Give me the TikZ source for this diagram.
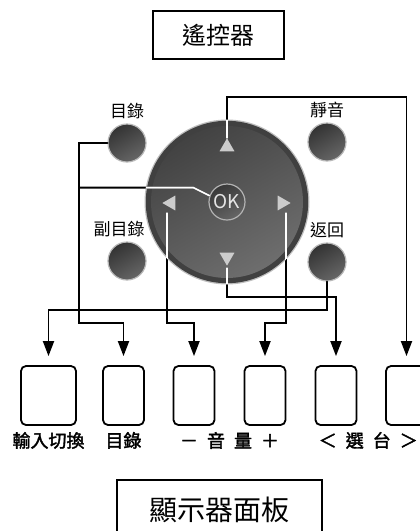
\documentclass[tikz,border=0pt]{standalone}
\usepackage{fontspec}
\newfontfamily\cjk{Noto Sans CJK TC}
\newfontfamily\cjkbold[FakeBold=2]{Noto Sans CJK TC}
\usetikzlibrary{arrows.meta,positioning,calc,shapes.geometric}

\tikzset{
  titlebox/.style={draw,line width=2.6pt,minimum width=131pt,minimum height=48pt,font=\cjk\fontsize{24}{24}\selectfont},
  rbtn/.style={circle,draw=gray!55,line width=1.2pt,top color=black!80,bottom color=black!60,shading angle=30,minimum size=38pt,inner sep=0pt},
  rlabel/.style={font=\cjk\fontsize{17}{17}\selectfont,inner sep=0pt},
  key/.style={draw,rounded corners=5pt,line width=1.8pt,minimum width=41pt,minimum height=59pt,inner sep=0pt},
  keylabel/.style={font=\cjkbold\fontsize{18}{18}\selectfont,inner sep=0pt},
  tri/.style={regular polygon,regular polygon sides=3,fill=gray!40,minimum size=17.3pt,inner sep=0pt},
  wire/.style={line width=1.8pt},
  link/.style={wire,-{Triangle[length=15pt,width=11pt]},shorten >=9pt}
}
% wires that start on the pad
\newcommand\padwires[1]{
  \draw[link,#1] (up.corner 1) -- (up |- r0) -| (k6.north);
  \draw[link,#1] (dn) -- (dn |- r1) -| (k5.north);
  \draw[link,#1] (lt) -- (lt |- r3) -| (k3.north);
  \draw[link,#1] (rt) -- (rt |- r3) -| (k4.north);
  \draw[wire,#1] (ok.160) -- ++(-16,-8) coordinate (okb) -- (ml |- okb);
}

\begin{document}
\begin{tikzpicture}[x=1pt,y=-1pt,line cap=round]
\useasboundingbox (0,0) rectangle (420,531);
\clip (0,0) rectangle (420,531);

\node[titlebox] (remote) at (218.5,35) {遙控器};
\node[titlebox,minimum width=205pt,minimum height=60pt,font=\cjk\fontsize{28}{28}\selectfont] (panel) at (219.5,510) {顯示器面板};

% direction pad
\coordinate (pad) at (227,202);
\fill[gray!50] (pad) circle (82.5);
\fill[black!75] (pad) circle (81.2);
\shade[top color=black!74,bottom color=black!57,shading angle=30] (pad) circle (76);
\node[circle,draw=gray!60,line width=1.2pt,top color=black!78,bottom color=black!60,shading angle=30,
  minimum size=36pt,inner sep=0pt,text=gray!20,font=\cjk\fontsize{19}{19}\selectfont] (ok) at (pad) {OK};
\node[tri] (up) at (227,147) {};
\node[tri,shape border rotate=180] (down) at (227,257) {};
\node[tri,shape border rotate=90] (left) at (171,203) {};
\node[tri,shape border rotate=-90] (right) at (282,203) {};

% side buttons
\node[rbtn] (menu) at (127,143) {};
\node[rbtn] (sub) at (127,261) {};
\node[rbtn] (mute) at (327,142) {};
\node[rbtn] (back) at (327,262) {};
\node[rlabel,above=4pt of menu] (menu-l) {目錄};
\node[rlabel,above=4pt of sub,xshift=-8pt] (sub-l) {副目錄};
\node[rlabel,above=4pt of mute] (mute-l) {靜音};
\node[rlabel,above=4pt of back] (back-l) {返回};

% panel keys
\node[key,minimum width=55pt] (k1) at (48.5,395.5) {};
\foreach \n/\x in {2/123.5,3/194,4/265,5/336,6/406.5}
  \node[key] (k\n) at (\x,395.5) {};
\node[keylabel,below=6pt of k1] (k1-l) {輸入切換};
\node[keylabel,below=6pt of k2] (k2-l) {目錄};
\path (k3.south) -- (k4.south) node[midway,keylabel,below=6pt] (vol-l) {－\hspace{9pt}音\hspace{9pt}量\hspace{9pt}＋};
\path (k5.south) -- (k6.south) node[midway,keylabel,below=6pt,xshift=-3pt] (ch-l) {＜\hspace{9pt}選\hspace{9pt}台\hspace{9pt}＞};

% rows of the wires
\coordinate (r0) at (0,97);
\coordinate (r1) at (0,297);
\coordinate (r2) at (0,310);
\coordinate (r3) at (0,323);
\coordinate (ml) at (79,0);
\coordinate (dn) at ($(down)+(0,11)$);
\coordinate (lt) at ($(left)+(-4,10)$);
\coordinate (rt) at ($(right)+(4,10)$);

\draw[link] (menu.west) -| (ml |- r3) -| (k2.north);
\draw[link] (back.south) -- (back.south |- r2) -| (k1.north);
\padwires{}
\begin{scope}
  \clip (pad) circle (82.5);
  \padwires{white}
\end{scope}
\end{tikzpicture}
\end{document}
